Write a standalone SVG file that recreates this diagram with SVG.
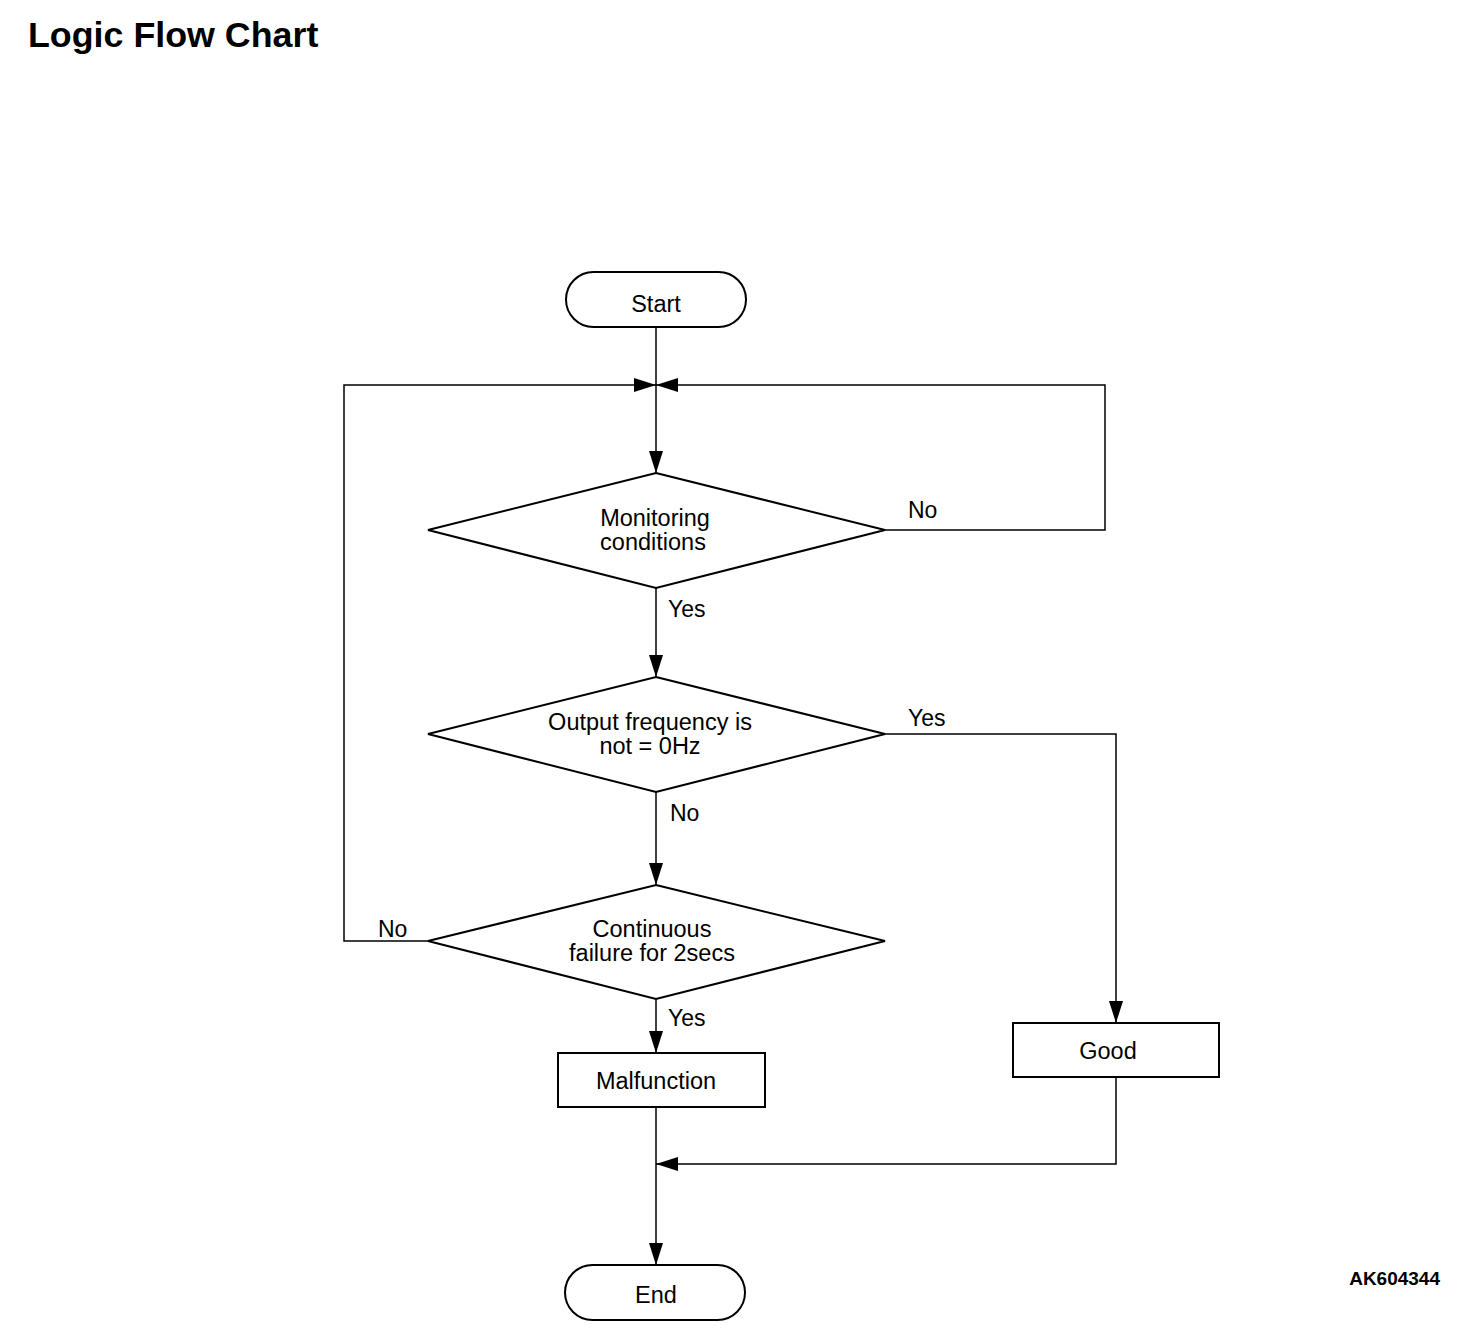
<svg xmlns="http://www.w3.org/2000/svg" width="1472" height="1336" viewBox="0 0 1472 1336">
<style>
.shape{fill:#fff;stroke:#000;stroke-width:2}
.conn{fill:none;stroke:#000;stroke-width:1.5}
.t{font-family:"Liberation Sans",Arial,sans-serif;font-size:23.5px;fill:#000;text-anchor:middle}
.lbl{font-family:"Liberation Sans",Arial,sans-serif;font-size:23px;fill:#000}
.title{font-family:"Liberation Sans",Arial,sans-serif;font-size:35.8px;font-weight:bold;fill:#000}
.code{font-family:"Liberation Sans",Arial,sans-serif;font-size:19px;font-weight:bold;fill:#000;text-anchor:end}
</style>
<defs>
<marker id="ah" viewBox="0 0 22 14" refX="22" refY="7" markerWidth="22" markerHeight="14" markerUnits="userSpaceOnUse" orient="auto">
<path d="M0,0 L22,7 L0,14 Z" fill="#000"/>
</marker>
</defs>
<rect width="1472" height="1336" fill="#fff"/>
<text class="title" x="28" y="47">Logic Flow Chart</text>
<text class="code" x="1440" y="1285">AK604344</text>

<g id="connectors">
<line class="conn" x1="656" y1="327" x2="656" y2="473" marker-end="url(#ah)"/>
<polyline class="conn" points="428,941 344,941 344,385 656,385" marker-end="url(#ah)"/>
<polyline class="conn" points="885,530 1105,530 1105,385 656,385" marker-end="url(#ah)"/>
<line class="conn" x1="656" y1="588" x2="656" y2="677" marker-end="url(#ah)"/>
<line class="conn" x1="656" y1="792" x2="656" y2="885" marker-end="url(#ah)"/>
<polyline class="conn" points="885,734 1116,734 1116,1023" marker-end="url(#ah)"/>
<line class="conn" x1="656" y1="999" x2="656" y2="1053" marker-end="url(#ah)"/>
<line class="conn" x1="656" y1="1107" x2="656" y2="1265" marker-end="url(#ah)"/>
<polyline class="conn" points="1116,1077 1116,1164 656,1164" marker-end="url(#ah)"/>
<text class="lbl" x="908" y="518">No</text>
<text class="lbl" x="668" y="617">Yes</text>
<text class="lbl" x="908" y="726">Yes</text>
<text class="lbl" x="670" y="821">No</text>
<text class="lbl" x="378" y="937">No</text>
<text class="lbl" x="668" y="1026">Yes</text>
</g>

<g id="start">
<rect class="shape" x="566" y="272" width="180" height="55" rx="27.5" ry="27.5"/>
<text class="t" x="656" y="312">Start</text>
</g>
<g id="monitoring">
<polygon class="shape" points="656,473 885,530 656,588 428,530"/>
<text class="t" x="655" y="526">Monitoring</text>
<text class="t" x="653" y="550">conditions</text>
</g>
<g id="output">
<polygon class="shape" points="656,677 885,734 656,792 428,734"/>
<text class="t" x="650" y="730">Output frequency is</text>
<text class="t" x="650" y="754">not = 0Hz</text>
</g>
<g id="continuous">
<polygon class="shape" points="656,885 885,941 656,999 428,941"/>
<text class="t" x="652" y="937">Continuous</text>
<text class="t" x="652" y="961">failure for 2secs</text>
</g>
<g id="malfunction">
<rect class="shape" x="558" y="1053" width="207" height="54"/>
<text class="t" x="656" y="1089">Malfunction</text>
</g>
<g id="good">
<rect class="shape" x="1013" y="1023" width="206" height="54"/>
<text class="t" x="1108" y="1059">Good</text>
</g>
<g id="end">
<rect class="shape" x="565" y="1265" width="180" height="55" rx="27.5" ry="27.5"/>
<text class="t" x="656" y="1303">End</text>
</g>
</svg>
